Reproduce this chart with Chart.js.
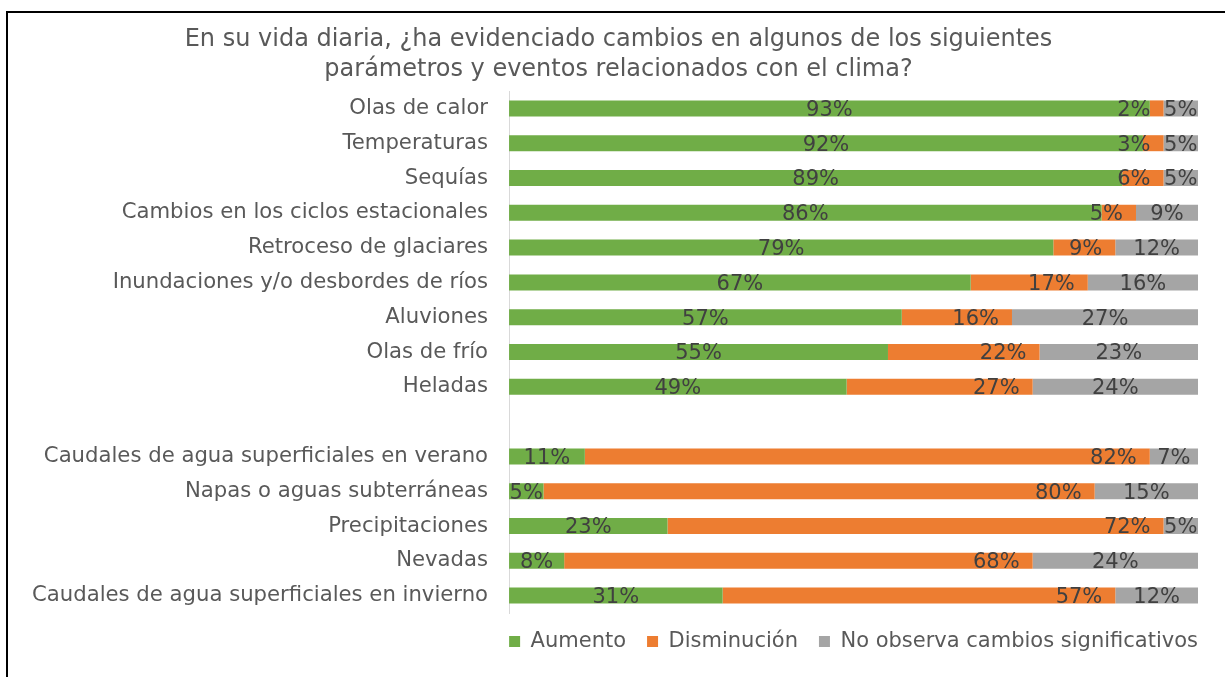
<!DOCTYPE html>
<html>
<head>
<meta charset="utf-8">
<script src="https://cdn.jsdelivr.net/npm/chart.js@4"></script>
<style>
  html, body { margin: 0; padding: 0; background: #fff; overflow: hidden; }
  #frame {
    position: absolute; left: 6px; top: 11px;
    width: 1225px; height: 680px;
    border-left: 2px solid #000; border-top: 2px solid #000;
  }
  #wrap { position: absolute; left: 0; top: 0; width: 1217px; height: 664px; }
</style>
</head>
<body>
<div id="frame"><div id="wrap"><canvas id="chart"></canvas></div></div>
<script>
const categories = [
  "Olas de calor", "Temperaturas", "Sequías", "Cambios en los ciclos estacionales",
  "Retroceso de glaciares", "Inundaciones y/o desbordes de ríos", "Aluviones",
  "Olas de frío", "Heladas", "",
  "Caudales de agua superficiales en verano", "Napas o aguas subterráneas",
  "Precipitaciones", "Nevadas", "Caudales de agua superficiales en invierno"
];
const aumento =      [93, 92, 89, 86, 79, 67, 57, 55, 49, null, 11,  5, 23,  8, 31];
const disminucion =  [ 2,  3,  6,  5,  9, 17, 16, 22, 27, null, 82, 80, 72, 68, 57];
const noObserva =    [ 5,  5,  5,  9, 12, 16, 27, 23, 24, null,  7, 15,  5, 24, 12];
const titleLines = [
  "En su vida diaria, ¿ha evidenciado cambios en algunos de los siguientes",
  "parámetros y eventos relacionados con el clima?"
];

// draws the % labels on each segment
const segLabels = {
  id: 'segLabels',
  afterDatasetsDraw(chart) {
    const ctx = chart.ctx;
    ctx.save();
    ctx.font = '21px "DejaVu Sans"';
    ctx.fillStyle = '#404040';
    ctx.textBaseline = 'middle';
    chart.data.datasets.forEach((ds, i) => {
      const meta = chart.getDatasetMeta(i);
      meta.data.forEach((bar, j) => {
        const v = ds.data[j];
        if (v == null) return;
        const txt = v + '%';
        if (ds.labelPos === 'end') {
          ctx.textAlign = 'right';
          ctx.fillText(txt, bar.x - 13, bar.y + 2);
        } else {
          ctx.textAlign = 'center';
          ctx.fillText(txt, (bar.x + bar.base) / 2, bar.y + 2);
        }
      });
    });
    ctx.restore();
  }
};

// small position tweaks for legend and title
const nudge = {
  id: 'nudge',
  afterLayout(chart) {
    if (chart.legend) {
      chart.legend.top -= 3;
      chart.legend.bottom -= 3;
      chart.legend.left += 21;
      chart.legend.right += 21;
    }
    if (chart.titleBlock) {
      chart.titleBlock.left += 14;
      chart.titleBlock.right += 14;
    }
  }
};

new Chart(document.getElementById('chart'), {
  type: 'bar',
  data: {
    labels: categories,
    datasets: [
      { label: 'Aumento', data: aumento, backgroundColor: '#70AD47', labelPos: 'center' },
      { label: 'Disminución', data: disminucion, backgroundColor: '#ED7D31', labelPos: 'end' },
      { label: 'No observa cambios significativos', data: noObserva, backgroundColor: '#A5A5A5', labelPos: 'center' }
    ]
  },
  options: {
    indexAxis: 'y',
    responsive: true,
    maintainAspectRatio: false,
    animation: false,
    barPercentage: 0.46,
    categoryPercentage: 1,
    layout: { padding: { left: 3, right: 27, top: 8, bottom: 12 } },
    scales: {
      x: { stacked: true, min: 0, max: 100, display: false },
      y: {
        stacked: true,
        grid: { display: false, drawTicks: false },
        border: { display: true, color: '#D9D9D9', width: 1 },
        ticks: {
          padding: 21,
          color: '#595959',
          font: { family: '"DejaVu Sans"', size: 21.2 }
        }
      }
    },
    plugins: {
      title: {
        display: true,
        text: titleLines,
        color: '#595959',
        font: { family: '"DejaVu Sans"', size: 24, weight: 'normal', lineHeight: 1.25 },
        padding: { top: 4, bottom: 6 }
      },
      legend: {
        position: 'bottom',
        align: 'end',
        labels: {
          boxWidth: 11,
          boxHeight: 11,
          padding: 21,
          color: '#595959',
          font: { family: '"DejaVu Sans"', size: 21 }
        }
      },
      tooltip: { enabled: false }
    }
  },
  plugins: [segLabels, nudge]
});
</script>
</body>
</html>
